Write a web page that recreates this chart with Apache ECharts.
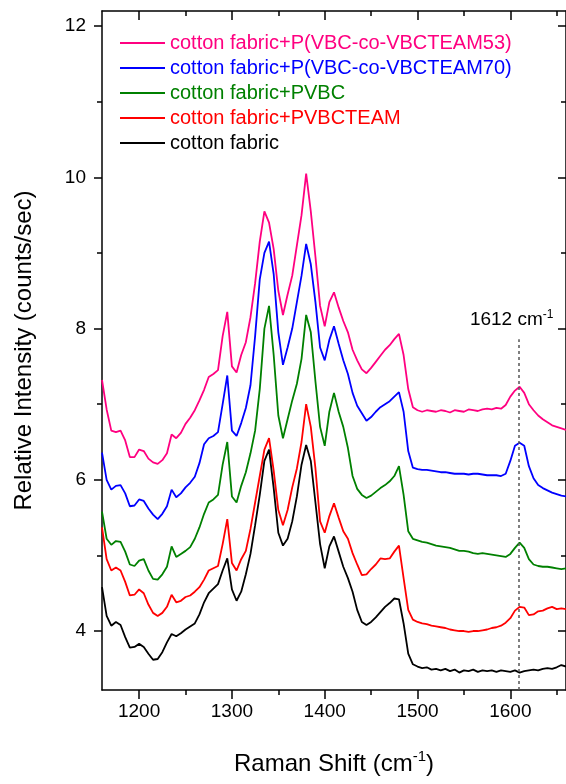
<!DOCTYPE html>
<html><head><meta charset="utf-8">
<script src="https://cdn.jsdelivr.net/npm/echarts@6/dist/echarts.min.js"></script>
<style>html,body{margin:0;padding:0;background:#fff}#c{width:566px;height:784px}</style>
</head><body><div id="c"></div>
<script>
// Raman shift sampling grid (cm-1)
const ramanShift = [
1160,1165,1170,1175,1180,1185,1190,1195,1200,1205,
1210,1215,1220,1225,1230,1235,1240,1245,1250,1255,
1260,1265,1270,1275,1280,1285,1290,1295,1300,1305,
1310,1315,1320,1325,1330,1335,1340,1345,1350,1355,
1360,1365,1370,1375,1380,1385,1390,1395,1400,1405,
1410,1415,1420,1425,1430,1435,1440,1445,1450,1455,
1460,1465,1470,1475,1480,1485,1490,1495,1500,1505,
1510,1515,1520,1525,1530,1535,1540,1545,1550,1555,
1560,1565,1570,1575,1580,1585,1590,1595,1600,1605,
1610,1615,1620,1625,1630,1635,1640,1645,1650,1655,
1660];

const cottonFabric = [
4.58,4.20,4.07,4.12,4.08,3.92,3.78,3.79,3.83,3.79,
3.70,3.62,3.63,3.72,3.85,3.96,3.93,3.97,4.02,4.06,
4.10,4.22,4.38,4.50,4.56,4.62,4.80,4.96,4.55,4.40,
4.52,4.75,5.02,5.40,5.80,6.25,6.40,5.89,5.30,5.13,
5.22,5.45,5.78,6.20,6.46,6.25,5.70,5.15,4.83,5.12,
5.25,5.05,4.85,4.70,4.52,4.28,4.12,4.08,4.12,4.18,
4.25,4.32,4.37,4.43,4.42,4.10,3.70,3.56,3.53,3.51,
3.52,3.49,3.50,3.48,3.50,3.47,3.49,3.45,3.48,3.47,
3.49,3.46,3.48,3.47,3.48,3.46,3.48,3.47,3.46,3.48,
3.45,3.47,3.48,3.49,3.48,3.50,3.51,3.50,3.52,3.55,
3.53];

const fabricPVBCTEAM = [
5.37,4.95,4.80,4.84,4.80,4.65,4.47,4.48,4.55,4.50,
4.35,4.24,4.20,4.24,4.32,4.48,4.38,4.40,4.45,4.47,
4.52,4.58,4.68,4.80,4.83,4.86,5.15,5.48,4.90,4.80,
4.95,5.06,5.35,5.70,6.05,6.40,6.55,6.12,5.60,5.40,
5.60,5.90,6.15,6.50,7.00,6.70,6.15,5.45,5.30,5.52,
5.69,5.50,5.32,5.22,5.03,4.88,4.74,4.75,4.82,4.88,
4.96,4.95,4.96,5.05,5.13,4.70,4.28,4.15,4.12,4.10,
4.09,4.07,4.06,4.05,4.04,4.02,4.01,4.00,4.00,3.99,
4.00,4.00,4.01,4.02,4.04,4.05,4.07,4.11,4.17,4.27,
4.32,4.31,4.21,4.22,4.26,4.27,4.30,4.32,4.29,4.30,
4.29];

const fabricPVBC = [
5.58,5.22,5.14,5.19,5.18,5.05,4.88,4.86,4.93,4.95,
4.80,4.69,4.68,4.75,4.85,5.12,4.98,5.02,5.06,5.11,
5.22,5.37,5.55,5.70,5.74,5.80,6.20,6.50,5.78,5.70,
5.92,6.10,6.35,6.65,7.20,8.00,8.30,7.65,6.85,6.55,
6.80,7.05,7.27,7.60,8.18,7.95,7.30,6.70,6.45,6.90,
7.15,6.90,6.70,6.42,6.05,5.88,5.80,5.76,5.79,5.84,
5.89,5.93,5.98,6.05,6.18,5.80,5.32,5.22,5.20,5.18,
5.17,5.15,5.13,5.12,5.11,5.10,5.08,5.06,5.06,5.05,
5.03,5.02,5.03,5.02,5.01,5.00,4.99,4.98,5.02,5.10,
5.17,5.10,4.95,4.88,4.86,4.85,4.85,4.84,4.83,4.82,
4.83];

const fabricTEAM70 = [
6.36,6.00,5.87,5.92,5.93,5.82,5.65,5.66,5.74,5.72,
5.62,5.54,5.48,5.55,5.65,5.87,5.77,5.82,5.90,5.96,
6.04,6.22,6.47,6.55,6.58,6.63,7.00,7.38,6.65,6.58,
6.75,6.95,7.25,7.90,8.65,9.00,9.15,8.72,7.95,7.52,
7.75,8.00,8.35,8.70,9.12,8.85,8.35,7.75,7.58,7.85,
8.03,7.80,7.58,7.40,7.15,6.98,6.88,6.78,6.83,6.90,
6.96,7.00,7.04,7.10,7.16,6.90,6.38,6.16,6.14,6.13,
6.13,6.12,6.11,6.10,6.10,6.09,6.08,6.08,6.08,6.07,
6.08,6.08,6.07,6.06,6.06,6.06,6.05,6.08,6.25,6.45,
6.49,6.45,6.18,6.02,5.93,5.89,5.86,5.83,5.81,5.79,
5.78];

const fabricTEAM53 = [
7.32,6.93,6.65,6.63,6.65,6.52,6.30,6.30,6.40,6.38,
6.28,6.23,6.21,6.26,6.35,6.60,6.55,6.62,6.74,6.82,
6.92,7.05,7.19,7.36,7.40,7.45,7.90,8.22,7.50,7.42,
7.65,7.82,8.15,8.60,9.15,9.55,9.40,9.05,8.50,8.18,
8.45,8.70,9.10,9.50,10.05,9.55,8.95,8.30,8.03,8.35,
8.48,8.28,8.10,7.95,7.72,7.58,7.46,7.41,7.48,7.56,
7.64,7.72,7.78,7.86,7.93,7.65,7.20,6.96,6.92,6.90,
6.92,6.91,6.90,6.92,6.91,6.89,6.92,6.91,6.90,6.93,
6.92,6.91,6.93,6.94,6.93,6.95,6.94,6.99,7.10,7.18,
7.23,7.15,7.00,6.92,6.85,6.80,6.76,6.72,6.70,6.68,
6.66];

const seriesNames = [
  'cotton fabric+P(VBC-co-VBCTEAM53)',
  'cotton fabric+P(VBC-co-VBCTEAM70)',
  'cotton fabric+PVBC',
  'cotton fabric+PVBCTEAM',
  'cotton fabric'
];
const seriesValues = [fabricTEAM53, fabricTEAM70, fabricPVBC, fabricPVBCTEAM, cottonFabric];
const seriesColors = ['#FF0080', '#0000FF', '#008000', '#FF0000', '#000000'];

const xTickValues = [1200, 1300, 1400, 1500, 1600];
const xMinorValues = [1250, 1350, 1450, 1550, 1650];
const yTickValues = [4, 6, 8, 10, 12];
const yMinorValues = [5, 7, 9, 11];
const markerShift = 1609;
const markerTop = 7.86;

const FONT = '"Liberation Sans", Arial, sans-serif';
const AX = { color: '#000', width: 1.5 };

function xAxisDef(pos, major, showLine, labels, inside) {
  return {
    type: 'value', min: 1160, max: 1660, position: pos, gridIndex: 0,
    axisLine: { show: showLine, onZero: false, lineStyle: AX },
    axisTick: { show: true, inside: inside, length: major ? 9 : 5, lineStyle: AX,
      customValues: major ? xTickValues : xMinorValues },
    axisLabel: labels ? { show: true, customValues: xTickValues, fontSize: 19, color: '#000',
      fontFamily: FONT, margin: 12, formatter: v => String(v) } : { show: false },
    splitLine: { show: false }
  };
}
function yAxisDef(pos, major, showLine, labels, inside) {
  return {
    type: 'value', min: 3.22, max: 12.2, position: pos, gridIndex: 0,
    axisLine: { show: showLine, onZero: false, lineStyle: AX },
    axisTick: { show: true, inside: inside, length: major ? 8 : 5, lineStyle: AX,
      customValues: major ? yTickValues : yMinorValues },
    axisLabel: labels ? { show: true, customValues: yTickValues, fontSize: 19, color: '#000',
      fontFamily: FONT, margin: 16, formatter: v => String(v) } : { show: false },
    splitLine: { show: false }
  };
}

const xAxes = [
  xAxisDef('bottom', true, true, true, false),
  xAxisDef('bottom', false, false, false, false),
  xAxisDef('top', true, true, false, true),
  xAxisDef('top', false, false, false, true)
];
Object.assign(xAxes[0], {
  name: 'Raman Shift (cm{sup|-1})', nameLocation: 'middle', nameGap: 59,
  nameTextStyle: { fontSize: 24, color: '#000', fontFamily: FONT, lineHeight: 30,
    rich: { sup: { fontSize: 15, color: '#000', fontFamily: FONT, verticalAlign: 'top', lineHeight: 18 } } }
});
const yAxes = [
  yAxisDef('left', true, true, true, false),
  yAxisDef('left', false, false, false, false),
  yAxisDef('right', true, true, false, true),
  yAxisDef('right', false, false, false, true)
];
Object.assign(yAxes[0], {
  name: 'Relative Intensity (counts/sec)', nameLocation: 'middle', nameGap: 66,
  nameTextStyle: { fontSize: 24, color: '#000', fontFamily: FONT }
});

const series = seriesNames.map((name, i) => ({
  name: name, type: 'line', xAxisIndex: 0, yAxisIndex: 0,
  symbol: 'none', smooth: false, animation: false,
  lineStyle: { color: seriesColors[i], width: 1.8 },
  itemStyle: { color: seriesColors[i] },
  data: ramanShift.map((x, j) => [x, seriesValues[i][j]])
}));
series[4].markLine = {
  symbol: 'none', silent: true, animation: false,
  lineStyle: { type: [3, 3], color: '#555', width: 1.5 },
  label: { show: true, position: 'end', distance: 8, padding: [0, 14, 0, 0],
    formatter: '1612 cm{sup|-1}', fontSize: 19, color: '#000', fontFamily: FONT, lineHeight: 22,
    rich: { sup: { fontSize: 12, color: '#000', fontFamily: FONT, verticalAlign: 'top', lineHeight: 12 } } },
  data: [[{ coord: [markerShift, 3.22] }, { coord: [markerShift, markerTop] }]]
};

const chart = echarts.init(document.getElementById('c'), null, { renderer: 'canvas' });
chart.setOption({
  animation: false,
  backgroundColor: '#fff',
  grid: { left: 102, top: 11, width: 466.6, height: 691.5, containLabel: false },
  legend: {
    orient: 'vertical', left: 115, top: 28, itemWidth: 45, itemHeight: 14, itemGap: 5,
    icon: 'path://M0,0 L45,0 L45,1.8 L0,1.8 Z',
    data: seriesNames.map((n, i) => ({ name: n, itemStyle: { color: seriesColors[i] },
      textStyle: { color: seriesColors[i], fontSize: 20, fontFamily: FONT } })),
    textStyle: { fontSize: 20, fontFamily: FONT }
  },
  xAxis: xAxes,
  yAxis: yAxes,
  series: series
});
</script></body></html>
